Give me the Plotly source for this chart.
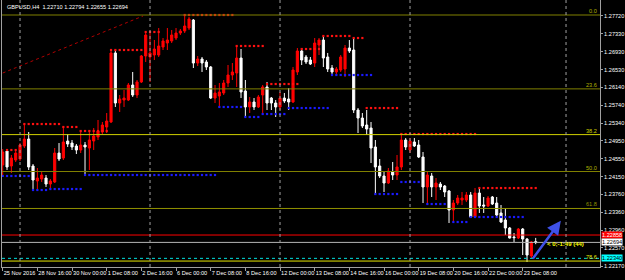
import plotly.graph_objects as go

# ---------------- data ----------------
opens = [1.24412,1.24723,1.24390,1.24523,1.24545,1.24834,1.24989,1.24390,1.24057,1.24101,
         1.24123,1.23990,1.24035,1.24678,1.24567,1.24945,1.24900,1.24834,1.24745,1.24856,
         1.24789,1.24945,1.25034,1.25145,1.25256,1.25367,1.26899,1.25788,1.25855,1.25855,
         1.26188,1.25966,1.26255,1.26832,1.26810,1.26854,1.26854,1.27032,1.27120,1.27165,
         1.27231,1.27342,1.27387,1.27453,1.27631,1.26676,1.26765,1.26699,1.26588,1.25899,
         1.25944,1.26010,1.26232,1.26410,1.26454,1.26787,1.26055,1.25700,1.25811,1.25700,
         1.25966,1.26144,1.25899,1.25788,1.25700,1.25899,1.25877,1.25811,1.26477,1.26943,
         1.26810,1.26743,1.26676,1.27076,1.27187,1.26810,1.26565,1.26477,1.26521,1.26543,
         1.27009,1.26965,1.25633,1.25455,1.25300,1.25233,1.24812,1.24390,1.24168,1.24012,
         1.24257,1.24190,1.24368,1.24967,1.24745,1.24923,1.24856,1.24590,1.23924,1.24168,
         1.23924,1.23990,1.23946,1.23835,1.23413,1.23568,1.23635,1.23635,1.23746,1.23258,
         1.23790,1.23524,1.23502,1.23702,1.23568,1.23347,1.23191,1.23013,1.22814,1.22791,
         1.22991,1.22769,1.22392,1.22710]
highs = [1.24767,1.24767,1.24634,1.24745,1.24900,1.25322,1.25145,1.24434,1.24345,1.24257,
         1.24190,1.24101,1.24789,1.24900,1.25256,1.25100,1.24967,1.24878,1.25167,1.24923,
         1.25167,1.25233,1.25411,1.25367,1.25566,1.26965,1.26965,1.25966,1.26077,1.26232,
         1.26477,1.26299,1.26854,1.27365,1.27365,1.27187,1.27453,1.27231,1.27453,1.27409,
         1.27453,1.27431,1.27742,1.27698,1.27653,1.26832,1.26810,1.26743,1.26610,1.26188,
         1.26232,1.26299,1.26632,1.26676,1.27032,1.26987,1.26299,1.25922,1.25899,1.25966,
         1.26188,1.26255,1.25922,1.25855,1.26033,1.26010,1.26121,1.26588,1.27009,1.27009,
         1.26854,1.26810,1.27231,1.27231,1.27276,1.26899,1.26632,1.26588,1.26854,1.27076,
         1.27187,1.27231,1.25677,1.25566,1.25633,1.25367,1.24967,1.24545,1.24257,1.24345,
         1.24479,1.24634,1.25122,1.25011,1.25011,1.25011,1.24967,1.24701,1.24257,1.24234,
         1.24123,1.24035,1.23968,1.23857,1.23635,1.23746,1.23813,1.23813,1.23813,1.23901,
         1.23901,1.23702,1.23724,1.23724,1.23702,1.23524,1.23457,1.23036,1.22902,1.23013,
         1.23013,1.22791,1.22725,1.22794]
lows = [1.24146,1.24301,1.24234,1.24479,1.24501,1.24789,1.24301,1.23857,1.23857,1.24035,
        1.23924,1.23879,1.24012,1.24501,1.24523,1.24812,1.24745,1.24656,1.24678,1.24190,
        1.24301,1.24745,1.24967,1.25100,1.25122,1.25344,1.25700,1.25589,1.25700,1.25833,
        1.25922,1.25899,1.26232,1.26699,1.26255,1.26743,1.26810,1.26965,1.26965,1.27120,
        1.27187,1.27298,1.27342,1.27409,1.26565,1.26610,1.26477,1.26521,1.25877,1.25788,
        1.25700,1.25966,1.26144,1.26299,1.26144,1.25899,1.25478,1.25566,1.25633,1.25677,
        1.25566,1.25633,1.25633,1.25478,1.25633,1.25788,1.25633,1.25788,1.26410,1.26632,
        1.26654,1.26632,1.26588,1.26854,1.26588,1.26477,1.26410,1.26410,1.26477,1.26366,
        1.26899,1.25566,1.25122,1.25233,1.25078,1.24456,1.23746,1.24123,1.23813,1.23990,
        1.24079,1.24079,1.24301,1.24745,1.24678,1.24812,1.24567,1.23568,1.23524,1.23702,
        1.23635,1.23857,1.23702,1.23124,1.23124,1.23524,1.23524,1.23591,1.23235,1.23235,
        1.23347,1.23347,1.23480,1.23524,1.23258,1.23124,1.22858,1.22780,1.22703,1.22769,
        1.22414,1.22259,1.22347,1.22655]
closes = [1.24701,1.24368,1.24567,1.24678,1.24856,1.24989,1.24368,1.24079,1.24123,1.24190,
          1.23990,1.24057,1.24678,1.24545,1.24923,1.24878,1.24812,1.24745,1.24856,1.24812,
          1.24967,1.25056,1.25167,1.25300,1.25389,1.26899,1.25788,1.25877,1.25899,1.26188,
          1.25966,1.26255,1.26832,1.27298,1.26899,1.26987,1.27054,1.27165,1.27187,1.27298,
          1.27342,1.27387,1.27498,1.27653,1.26676,1.26765,1.26676,1.26588,1.25899,1.26010,
          1.26033,1.26232,1.26410,1.26477,1.26787,1.26033,1.25700,1.25811,1.25700,1.25922,
          1.26144,1.25788,1.25788,1.25700,1.25899,1.25833,1.25811,1.26521,1.26943,1.26743,
          1.26699,1.26654,1.27120,1.27187,1.26787,1.26543,1.26477,1.26543,1.26810,1.27009,
          1.26943,1.25633,1.25455,1.25278,1.25211,1.24789,1.24368,1.24168,1.24012,1.24279,
          1.24190,1.24368,1.24967,1.24812,1.24945,1.24834,1.24590,1.23924,1.24190,1.23924,
          1.24012,1.23924,1.23813,1.23413,1.23568,1.23679,1.23679,1.23746,1.23258,1.23790,
          1.23502,1.23502,1.23679,1.23546,1.23302,1.23147,1.23013,1.22791,1.22800,1.22991,
          1.22769,1.22414,1.22703,1.22694]

tick_idx = [0, 8, 16, 24, 32, 40, 48, 56, 64, 72, 80, 88, 96, 104, 112, 120]
tick_labels = ["25 Nov 2016", "28 Nov 16:00", "30 Nov 00:00", "1 Dec 08:00", "2 Dec 16:00",
               "6 Dec 00:00", "7 Dec 08:00", "8 Dec 16:00", "12 Dec 00:00", "13 Dec 08:00",
               "14 Dec 16:00", "16 Dec 00:00", "19 Dec 08:00", "20 Dec 16:00", "22 Dec 00:00",
               "23 Dec 08:00"]
price_ticks = [1.27720, 1.27330, 1.26930, 1.26530, 1.26140, 1.25740, 1.25340, 1.24950,
               1.24550, 1.24150, 1.23760, 1.23360, 1.22960, 1.22570, 1.22170]

fib_names = ["0.0", "23.6", "38.2", "50.0", "61.8", "78.6"]
fib_prices = [1.27742, 1.26102, 1.25087, 1.24268, 1.23447, 1.22280]
fib_colors = ["#808000", "#808000", "#d0d000", "#808000", "#909000", "#e8e800"]

res_start = [1, 5, 14, 18, 25, 33, 42, 54, 61, 69, 74, 81, 84, 92, 110]
res_end = [3, 13, 17, 24, 32, 36, 53, 60, 68, 73, 80, 83, 91, 109, 123]
res_price = [1.24745, 1.25322, 1.25256, 1.25167, 1.26965, 1.27365, 1.27742, 1.27054,
             1.26210, 1.26987, 1.27276, 1.27231, 1.25677, 1.25100, 1.23901]
sup_start = [0, 7, 11, 19, 50, 56, 60, 66, 76, 86, 92, 98, 104, 108]
sup_end = [6, 10, 18, 49, 55, 59, 65, 75, 85, 91, 96, 102, 107, 120]
sup_price = [1.24168, 1.23857, 1.23879, 1.24190, 1.25700, 1.25478, 1.25544, 1.25677,
             1.26410, 1.23768, 1.24035, 1.23546, 1.23147, 1.23258]

trend_x = [0, 32.4]
trend_y = [1.26454, 1.27720]
separators = [4, 34, 64, 94, 130]

red_level = 1.22858
bid_level = 1.22694
cyan_level = 1.22340
arrow_from = (122.1, 1.22303)
arrow_to = (128.8, 1.23176)

FONT = "Liberation Sans"
FS = 5.6

fig = go.Figure()

# horizontal levels
for name, pr, col in zip(fib_names, fib_prices, fib_colors):
    fig.add_hline(y=pr, line=dict(color=col, width=1))
    fig.add_annotation(x=1, xref="paper", y=pr, yref="y", text=name, showarrow=False,
                       xanchor="right", yanchor="bottom", xshift=-1, yshift=-1,
                       font=dict(family=FONT, size=FS, color=col if col != "#808000" else "#b0b000"))
fig.add_hline(y=red_level, line=dict(color="#ff0000", width=1))
fig.add_hline(y=bid_level, line=dict(color="#b4b4b4", width=1))
fig.add_hline(y=cyan_level, line=dict(color="#00e0e0", width=1, dash="dot"))

for s in separators:
    fig.add_vline(x=s, line=dict(color="#a0a0a0", width=1, dash="dot"))

# trend line
fig.add_trace(go.Scatter(x=trend_x, y=trend_y, mode="lines",
                         line=dict(color="#b00000", width=1, dash="dot"), hoverinfo="skip"))

# resistance / support markers
for s, e, p in zip(res_start, res_end, res_price):
    xs = list(range(s, e + 1))
    fig.add_trace(go.Scatter(x=xs, y=[p] * len(xs), mode="markers",
                             marker=dict(symbol="square", size=2.2, color="#ff1010"), hoverinfo="skip"))
for s, e, p in zip(sup_start, sup_end, sup_price):
    xs = list(range(s, e + 1))
    fig.add_trace(go.Scatter(x=xs, y=[p] * len(xs), mode="markers",
                             marker=dict(symbol="square", size=2.2, color="#1a1aff"), hoverinfo="skip"))

fig.add_trace(go.Candlestick(
    x=list(range(len(opens))), open=opens, high=highs, low=lows, close=closes,
    increasing=dict(line=dict(color="#ff0000", width=1), fillcolor="#ff0000"),
    decreasing=dict(line=dict(color="#ffffff", width=1), fillcolor="#ffffff"),
    whiskerwidth=0, hoverinfo="skip"))

# arrow
fig.add_annotation(x=arrow_to[0], y=arrow_to[1], ax=arrow_from[0], ay=arrow_from[1],
                   xref="x", yref="y", axref="x", ayref="y", showarrow=True, text="",
                   arrowhead=2, arrowsize=1.1, arrowwidth=2.5, arrowcolor="#3f51e8")
fig.add_annotation(x=125.2, y=1.22665, xref="x", yref="y", text="<b>&lt; 0;-1:49 (44)</b>",
                   showarrow=False, xanchor="left", yanchor="middle",
                   font=dict(family=FONT, size=6, color="#ffff00"))

# axis price labels
for pr, bg, fc in [(red_level, "#ff0000", "#ffffff"), (bid_level, "#ffffff", "#000000"),
                   (cyan_level, "#00ffff", "#000000")]:
    fig.add_annotation(x=1, xref="paper", y=pr, yref="y", text=f"{pr:.5f}", showarrow=False,
                       xanchor="left", yanchor="middle", xshift=1, bgcolor=bg, borderpad=0,
                       font=dict(family=FONT, size=FS, color=fc))

fig.add_annotation(x=0, xref="paper", y=1, yref="paper", xanchor="left", yanchor="top",
                   xshift=3, yshift=-2, showarrow=False,
                   text="GBPUSD,H4  1.22710 1.22794 1.22655 1.22694",
                   font=dict(family=FONT, size=FS, color="#ffffff"))

fig.update_layout(
    width=625, height=280, margin=dict(l=2, r=25, t=0, b=13, autoexpand=False),
    paper_bgcolor="#000000", plot_bgcolor="#000000", showlegend=False,
    xaxis=dict(range=[-0.16, 137.84], rangeslider=dict(visible=False), showgrid=False,
               zeroline=False, tickvals=tick_idx, ticktext=tick_labels, tickangle=0,
               automargin=False,
               ticklabelposition="outside right", ticks="outside", ticklen=3,
               tickcolor="#a0a0a0", showline=True, linecolor="#a0a0a0", mirror=True,
               tickfont=dict(family=FONT, size=FS, color="#ffffff")),
    yaxis=dict(range=[1.22148, 1.28075], side="right", showgrid=False, zeroline=False,
               tickvals=price_ticks, ticktext=[f"{v:.5f}" for v in price_ticks],
               automargin=False,
               ticks="outside", ticklen=2, tickcolor="#a0a0a0", showline=True,
               linecolor="#a0a0a0", mirror=True,
               tickfont=dict(family=FONT, size=FS, color="#ffffff")),
)

fig.write_html("out.html")
